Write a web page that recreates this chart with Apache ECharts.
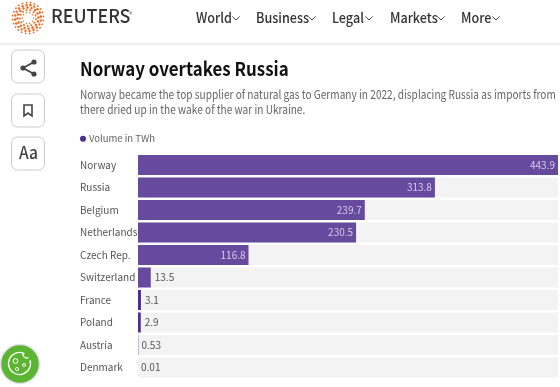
<!DOCTYPE html>
<html>
<head>
<meta charset="utf-8">
<style>
html,body{margin:0;padding:0;background:#fff;}
#main{width:560px;height:387px;}
</style>
<script src="https://cdn.jsdelivr.net/npm/echarts@6/dist/echarts.min.js"></script>
</head>
<body>
<div id="main"></div>
<script>
var categories = ['Norway','Russia','Belgium','Netherlands','Czech Rep.','Switzerland','France','Poland','Austria','Denmark'];
var values = [443.9,313.8,239.7,230.5,116.8,13.5,3.1,2.9,0.53,0.01];
var valueLabels = ['443.9','313.8','239.7','230.5','116.8','13.5','3.1','2.9','0.53','0.01'];
var navItems = ['World','Business','Legal','Markets','More'];
var navX = [196,256,332,390,461];
var navChevron = [236,312,369,441,496];
var subtitle = ['Norway became the top supplier of natural gas to Germany in 2022, displacing Russia as imports from','there dried up in the wake of the war in Ukraine.'];
var font = '"Noto Sans CJK SC"';
var grey = '#555';

var chrome = [];
// 页头
chrome.push({type:'rect',shape:{x:0,y:43,width:560,height:2},style:{fill:'#f0f0f0'}});
// logo dots
var rings = [[5.5,10,0.7],[8,13,1.0],[10.5,16,1.2],[13,20,1.2],[15.5,24,0.9]];
rings.forEach(function(r,k){
	for (var i=0;i<r[1];i++){
		var a = i/r[1]*Math.PI*2 + k*0.17;
		chrome.push({type:'circle',shape:{cx:28+Math.cos(a)*r[0],cy:18+Math.sin(a)*r[0],r:r[2]},style:{fill:'#f4661b'}});
	}
});
chrome.push({type:'text',x:51,y:6,scaleX:0.94,style:{text:'REUTERS',font:'500 19px '+font,fill:'#333'}});
chrome.push({type:'text',x:129,y:11,style:{text:'®',font:'7px '+font,fill:'#666'}});
navItems.forEach(function(t,i){
	chrome.push({type:'text',x:navX[i],y:11,scaleX:0.9,style:{text:t,font:'500 14px '+font,fill:'#333'}});
	var c = navChevron[i];
	chrome.push({type:'polyline',shape:{points:[[c-3.7,16.5],[c,20],[c+3.7,16.5]]},style:{stroke:'#444',lineWidth:1,fill:'none'}});
});
// 侧边按钮
[50,94,137].forEach(function(y){
	chrome.push({type:'rect',shape:{x:11.5,y:y,width:33,height:33,r:6},style:{fill:'#fff',stroke:'#ccc',lineWidth:1}});
});
chrome.push({type:'polyline',shape:{points:[[34,62],[23,68],[34,74]]},style:{stroke:'#444',lineWidth:1.8,fill:'none'}});
[[34,62],[23,68],[34,74]].forEach(function(p){
	chrome.push({type:'circle',shape:{cx:p[0],cy:p[1],r:2.6},style:{fill:'#444'}});
});
chrome.push({type:'polygon',shape:{points:[[24,105],[32,105],[32,116],[28,113],[24,116]]},style:{fill:'none',stroke:'#444',lineWidth:1.6}});
chrome.push({type:'text',x:19,y:144,scaleX:0.92,style:{text:'Aa',font:'500 17px '+font,fill:'#444'}});
// 标题
chrome.push({type:'text',x:80,y:59,scaleX:0.89,style:{text:'Norway overtakes Russia',font:'bold 19px '+font,fill:'#111'}});
subtitle.forEach(function(t,i){
	chrome.push({type:'text',x:80,y:88.5+i*15,scaleX:0.843,style:{text:t,font:'12px '+font,fill:'#666'}});
});
// cookie
chrome.push({type:'circle',shape:{cx:20,cy:364,r:19.5},style:{fill:'#5cb531',stroke:'#e4e0ee',lineWidth:1.5}});
chrome.push({type:'arc',shape:{cx:19.5,cy:363.5,r:11,startAngle:-0.3,endAngle:-1.1,clockwise:true},style:{fill:'none',stroke:'#fff',lineWidth:1.3}});
chrome.push({type:'arc',shape:{cx:27,cy:354,r:4,startAngle:1.2,endAngle:3.4,clockwise:true},style:{fill:'none',stroke:'#fff',lineWidth:1.3}});
[[15.5,361,2.4],[24,365,1.5],[17,369,1.6]].forEach(function(p){
	chrome.push({type:'circle',shape:{cx:p[0],cy:p[1],r:p[2]},style:{fill:'none',stroke:'#fff',lineWidth:1}});
});

var barData = values.map(function(v,i){
	var inside = v > 100;
	return {
		value:v,
		itemStyle:{color: v < 1 ? '#9a86c4' : (v < 5 ? '#4c2d8f' : '#654a9e')},
		label:{
			show:true,
			position: inside ? 'insideRight' : 'right',
			distance: inside ? 3 : (v < 1 ? 3 : 4),
			color: inside ? '#d6cce8' : grey,
			formatter: valueLabels[i]
		}
	};
});

var myChart = echarts.init(document.getElementById('main'),null,{renderer:'canvas'});
myChart.setOption({
	animation:false,
	textStyle:{fontFamily:font},
	legend:{
		left:75,
		top:129,
		itemWidth:6,
		itemHeight:6,
		itemGap:3,
		icon:'circle',
		textStyle:{color:'#666',fontSize:9.5,fontFamily:font,padding:[0,0,0,-2]},
		data:[{name:'Volume in TWh',itemStyle:{color:'#4f2d91'}}]
	},
	grid:{left:138,top:153.75,width:420,height:225,containLabel:false},
	xAxis:{type:'value',min:0,max:443.9,show:false},
	yAxis:{
		type:'category',
		inverse:true,
		data:categories,
		axisLine:{show:false},
		axisTick:{show:false},
		axisLabel:{
			color:grey,
			fontSize:10,
			fontFamily:font,
			align:'left',
			margin:58
		}
	},
	series:[{
		name:'Volume in TWh',
		type:'bar',
		barWidth:20,
		showBackground:true,
		backgroundStyle:{color:'#f3f3f3'},
		label:{fontSize:10,fontFamily:font},
		data:barData
	}],
	graphic:chrome
});
</script>
</body>
</html>
